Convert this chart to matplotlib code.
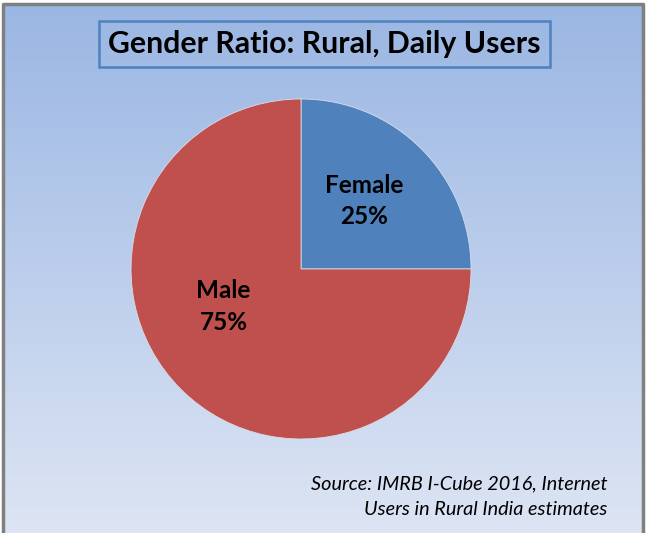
import numpy as np
import matplotlib.pyplot as plt
from matplotlib.colors import LinearSegmentedColormap

labels = ['Female', 'Male']
shares = [25, 75]
colors = ['#4F81BD', '#C0504D']
title = 'Gender Ratio: Rural, Daily Users'
source = 'Source: IMRB I-Cube 2016, Internet\nUsers in Rural India estimates'

plt.rcParams['font.family'] = ['Lato', 'DejaVu Sans']

fig = plt.figure(figsize=(6.48, 5.33), dpi=100)

# background gradient
bg = fig.add_axes([0.004, 0, 0.988, 0.993])
bg.axis('off')
grad = LinearSegmentedColormap.from_list('bg', ['#9AB6E3', '#DDE5F4'])
bg.imshow(np.linspace(0, 1, 256).reshape(-1, 1), cmap=grad, aspect='auto',
          extent=[0, 1, 0, 1])
bg.set_xlim(0, 1)
bg.set_ylim(0, 1)

# outer border (left, top, right)
fig.add_artist(plt.Line2D([0.004, 0.004, 0.992, 0.992], [0, 0.993, 0.993, 0],
                          color='#808080', lw=2.5, transform=fig.transFigure))

# pie
ax = fig.add_axes([0.2022, 0.1764, 0.5247, 0.6379])
wedges, _ = ax.pie(shares, colors=colors, startangle=90, counterclock=False,
                   radius=1, wedgeprops=dict(edgecolor='#d9dde8', linewidth=0.6))
ax.set_xlim(-1, 1)
ax.set_ylim(-1, 1)
ax.set_aspect('equal')

label_pos = [(0.37, 0.40), (-0.455, -0.22)]
for (x, y), lab, v in zip(label_pos, labels, shares):
    ax.text(x, y, '{}\n{}%'.format(lab, v), ha='center', va='center',
            fontsize=17.5, fontweight='bold', color='black', linespacing=1.45)

# title box
fig.text(0.501, 0.917, title, ha='center', va='center', fontsize=21.8,
         fontweight='bold', color='black',
         bbox=dict(boxstyle='square,pad=0.3', fc='none', ec='#4F81BD', lw=1.8))

fig.text(0.938, 0.068, source, ha='right', va='center', fontsize=14.3,
         style='italic', color='black', linespacing=1.65)

fig.savefig('out.png', dpi=100)
